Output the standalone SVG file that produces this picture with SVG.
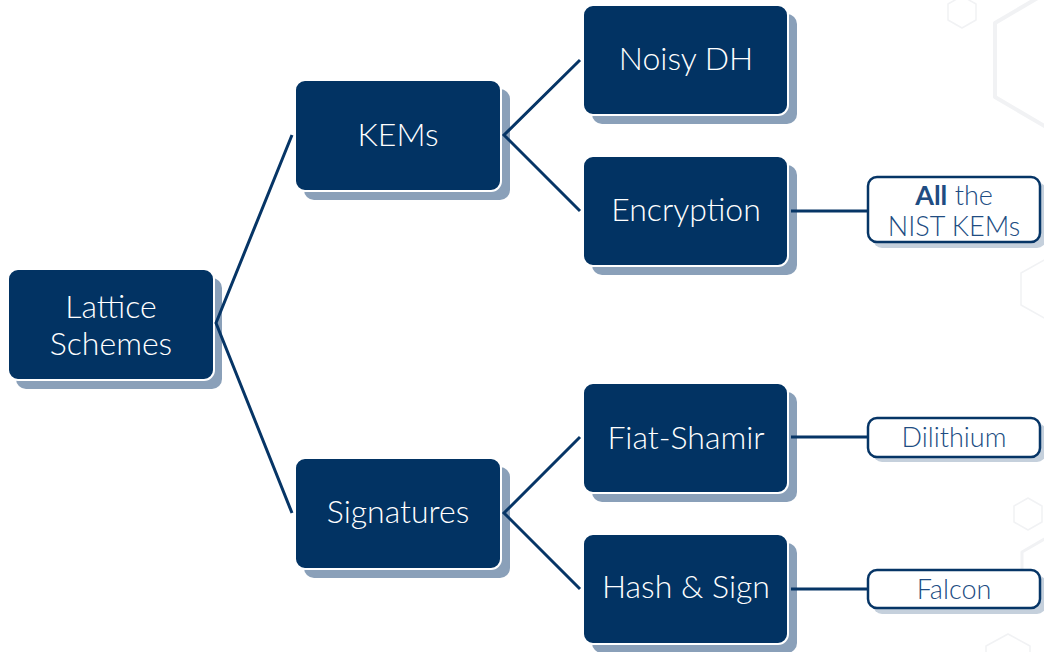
<svg xmlns="http://www.w3.org/2000/svg" width="1044" height="652" viewBox="0 0 1044 652">
  <defs>
    <style>
      .hex { fill: none; stroke: #f1f2f4; stroke-linejoin: round; }
      .shadow { fill: #8aa0b9; }
      .box { fill: #023363; stroke: #ffffff; stroke-width: 2; }
      .tag-shadow { fill: #c5d0dc; }
      .tag { fill: #ffffff; stroke: #063566; stroke-width: 2.5; }
      .label { font-family: Lato, "Noto Sans", "Liberation Sans", sans-serif; font-weight: 300; font-size: 32px; fill: #ffffff; text-anchor: middle; }
      .tag-label { font-family: Lato, "Noto Sans", "Liberation Sans", sans-serif; font-weight: 300; font-size: 27px; fill: #204c82; text-anchor: middle; }
      .edge { fill: none; stroke: #063566; stroke-width: 3; }
    </style>
  </defs>

  <rect width="1044" height="652" fill="#ffffff"/>

  <!-- faint background hexagons -->
  <g id="background">
    <polygon class="hex" stroke-width="1.5" points="962,-4 976,4 976,20 962,28 948,20 948,4"/>
    <polygon class="hex" stroke-width="4" points="1058,-14 1122,23 1122,97 1058,134 995,97 995,23"/>
    <polygon class="hex" stroke-width="1.5" points="1048,258 1075,273 1075,305 1048,320 1021,305 1021,273"/>
    <polygon class="hex" stroke-width="1.5" points="1028,498 1042,506 1042,522 1028,530 1014,522 1014,506"/>
    <polygon class="hex" stroke-width="3" points="1060,530 1098,552 1098,596 1060,618 1022,596 1022,552"/>
    <polygon class="hex" stroke-width="1.5" points="1008,634 1030,646 1030,670 1008,682 986,670 986,646"/>
  </g>

  <g id="lattice">
    <rect class="shadow" x="16" y="278" width="206" height="111" rx="10"/>
    <rect class="box" x="8" y="269" width="206" height="111" rx="10"/>
    <text class="label" x="111" y="318">Lattice</text>
    <text class="label" x="111" y="355">Schemes</text>
  </g>

  <g id="kems">
    <rect class="shadow" x="304" y="89" width="206" height="111" rx="10"/>
    <rect class="box" x="295" y="80" width="206" height="111" rx="10"/>
    <text class="label" x="398" y="146">KEMs</text>
  </g>

  <g id="signatures">
    <rect class="shadow" x="304" y="467" width="206" height="111" rx="10"/>
    <rect class="box" x="295" y="458" width="206" height="111" rx="10"/>
    <text class="label" x="398" y="523">Signatures</text>
  </g>

  <g id="noisy-dh">
    <rect class="shadow" x="592" y="14" width="205" height="110" rx="10"/>
    <rect class="box" x="583" y="5" width="205" height="110" rx="10"/>
    <text class="label" x="686" y="70">Noisy DH</text>
  </g>

  <g id="encryption">
    <rect class="shadow" x="592" y="165" width="205" height="110" rx="10"/>
    <rect class="box" x="583" y="156" width="205" height="110" rx="10"/>
    <text class="label" x="686" y="221">Encryption</text>
  </g>

  <g id="fiat-shamir">
    <rect class="shadow" x="592" y="392" width="205" height="110" rx="10"/>
    <rect class="box" x="583" y="383" width="205" height="110" rx="10"/>
    <text class="label" x="686" y="449">Fiat-Shamir</text>
  </g>

  <g id="hash-sign">
    <rect class="shadow" x="592" y="543" width="205" height="110" rx="10"/>
    <rect class="box" x="583" y="534" width="205" height="110" rx="10"/>
    <text class="label" x="686" y="598">Hash &amp; Sign</text>
  </g>

  <g id="nist-kems">
    <rect class="tag-shadow" x="873" y="182" width="173" height="66" rx="9"/>
    <rect class="tag" x="868" y="177" width="172" height="65" rx="9"/>
    <text class="tag-label" x="954" y="205"><tspan font-weight="700">All</tspan> the</text>
    <text class="tag-label" x="954" y="236">NIST KEMs</text>
  </g>

  <g id="dilithium">
    <rect class="tag-shadow" x="873" y="423" width="173" height="39" rx="9"/>
    <rect class="tag" x="868" y="418" width="172" height="39" rx="9"/>
    <text class="tag-label" x="954" y="447">Dilithium</text>
  </g>

  <g id="falcon">
    <rect class="tag-shadow" x="873" y="575" width="173" height="39" rx="9"/>
    <rect class="tag" x="868" y="570" width="172" height="38" rx="9"/>
    <text class="tag-label" x="954" y="599">Falcon</text>
  </g>

  <!-- connectors, drawn over the box shadows -->
  <g id="connectors">
    <polyline class="edge" points="292,135 216,323 292,513"/>
    <polyline class="edge" points="580,60 504,135 580,211"/>
    <polyline class="edge" points="580,437 504,513 580,589"/>
    <line class="edge" x1="791" y1="211" x2="867" y2="211"/>
    <line class="edge" x1="791" y1="437" x2="867" y2="437"/>
    <line class="edge" x1="791" y1="589" x2="867" y2="589"/>
  </g>
</svg>
